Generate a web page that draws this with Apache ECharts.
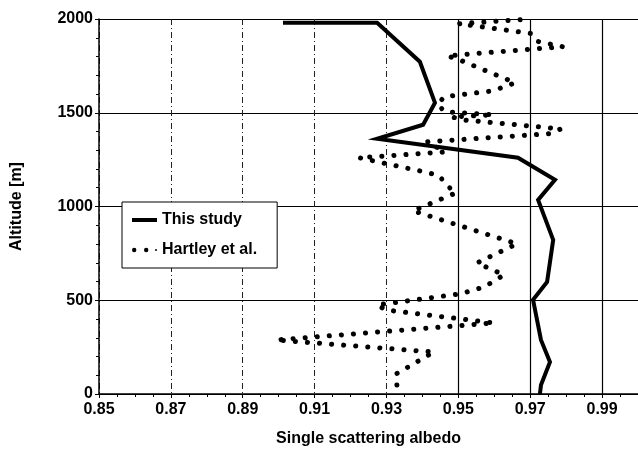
<!DOCTYPE html>
<html>
<head>
<meta charset="UTF-8">
<title>Single scattering albedo</title>
<script src="https://cdn.jsdelivr.net/npm/echarts@6/dist/echarts.min.js"></script>
<style>
  html, body { margin: 0; padding: 0; background: #fff; }
  #chart { width: 638px; height: 454px; }
</style>
</head>
<body>
<div id="chart"></div>
<script>
// this study (solid line)
var studyAlbedo = [0.9012, 0.9274, 0.9393, 0.9435, 0.9402, 0.9274, 0.9666, 0.9769, 0.9722, 0.9764, 0.9747, 0.9708, 0.9730, 0.9755, 0.9730, 0.9727];
var studyAlt    = [1980, 1980, 1772, 1553, 1436, 1361, 1260, 1142, 1035, 822, 598, 502, 288, 171, 48, 0];

// Hartley et al. (dotted line)
var hartleyAlbedo = [0.9329, 0.9327, 0.9432, 0.8993, 0.9599, 0.9299, 0.9274, 0.9505, 0.9572, 0.9627, 0.9552, 0.9663, 0.9374, 0.9494, 0.9469, 0.9447, 0.9416, 0.9224, 0.9463, 0.9413, 0.9752, 0.9786, 0.9513, 0.9482, 0.9597, 0.9463, 0.9443, 0.9460, 0.9597, 0.9658, 0.9502, 0.9469, 0.9791, 0.9722, 0.9705, 0.9502, 0.9700];
var hartleyAlt    = [48, 107, 224, 288, 379, 448, 475, 534, 571, 635, 699, 801, 977, 1073, 1110, 1164, 1180, 1260, 1291, 1345, 1388, 1414, 1462, 1478, 1489, 1505, 1542, 1585, 1617, 1660, 1783, 1804, 1852, 1880, 1922, 1975, 2000];

// solid vertical grid lines
var solidGridX = [0.95, 0.97, 0.99];

var font = '"Liberation Sans", Arial, sans-serif';

function pairs(xs, ys) {
  return xs.map(function (x, i) { return [x, ys[i]]; });
}

var chart = echarts.init(document.getElementById('chart'));

var option = {
  backgroundColor: '#fff',
  animation: false,
  textStyle: { fontFamily: font, color: '#000' },
  grid: { left: 99, top: 19, right: 0, bottom: 60 },
  legend: {
    orient: 'vertical',
    left: 122,
    top: 202,
    padding: [10, 20, 10, 10],
    itemGap: 14,
    itemWidth: 25,
    itemHeight: 14,
    borderColor: '#000',
    borderWidth: 1,
    backgroundColor: '#fff',
    lineStyle: { color: 'rgba(0,0,0,0)', type: 'solid' },
    textStyle: { fontFamily: font, fontSize: 16, fontWeight: 'bold', color: '#000' },
    data: [
      { name: 'This study', icon: 'path://M0,0H25V4H0Z' },
      { name: 'Hartley et al.', icon: 'path://M0,2a2.2,2.2 0 1,0 4.4,0a2.2,2.2 0 1,0 -4.4,0ZM12,2a2.2,2.2 0 1,0 4.4,0a2.2,2.2 0 1,0 -4.4,0ZM23,2a1,1 0 1,0 2,0a1,1 0 1,0 -2,0Z' }
    ]
  },
  xAxis: {
    type: 'value',
    min: 0.85,
    max: 1.0,
    interval: 0.02,
    name: 'Single scattering albedo',
    nameLocation: 'middle',
    nameGap: 37,
    nameTextStyle: { fontFamily: font, fontSize: 16, fontWeight: 'bold', color: '#000' },
    axisLine: { show: true, lineStyle: { color: '#000', width: 1.5 } },
    axisTick: { show: true, length: 4, lineStyle: { color: '#000' } },
    minorTick: { show: true, splitNumber: 4, length: 3, lineStyle: { color: '#000' } },
    axisLabel: {
      margin: 8,
      showMaxLabel: false,
      fontFamily: font, fontSize: 16, fontWeight: 'bold', color: '#000',
      formatter: function (v) { return v.toFixed(2); }
    },
    splitLine: { show: true, lineStyle: { color: '#222', width: 1, type: [6, 3, 1, 3] } }
  },
  yAxis: {
    type: 'value',
    min: 0,
    max: 2000,
    interval: 500,
    name: 'Altitude [m]',
    nameLocation: 'middle',
    nameGap: 74,
    nameRotate: 90,
    nameTextStyle: { fontFamily: font, fontSize: 16, fontWeight: 'bold', color: '#000' },
    axisLine: { show: true, lineStyle: { color: '#000', width: 1.5 } },
    axisTick: { show: true, length: 4, lineStyle: { color: '#000' } },
    minorTick: { show: true, splitNumber: 5, length: 3, lineStyle: { color: '#000' } },
    axisLabel: {
      margin: 6, fontFamily: font, fontSize: 16, fontWeight: 'bold', color: '#000',
      formatter: function (v) { return String(v); }
    },
    splitLine: { show: true, lineStyle: { color: '#000', width: 1.2 } }
  },
  series: [
    {
      name: 'grid',
      type: 'line',
      data: [],
      silent: true,
      markLine: {
        silent: true,
        symbol: 'none',
        label: { show: false },
        lineStyle: { color: '#000', width: 1.2, type: 'solid' },
        data: solidGridX.map(function (x) { return { xAxis: x }; })
      }
    },
    {
      name: 'Hartley et al.',
      type: 'line',
      data: pairs(hartleyAlbedo, hartleyAlt),
      showSymbol: false,
      symbol: 'none',
      lineStyle: { color: '#000', width: 5, type: [0.1, 12], cap: 'round' },
      itemStyle: { color: '#000' }
    },
    {
      name: 'This study',
      type: 'line',
      data: pairs(studyAlbedo, studyAlt),
      showSymbol: false,
      symbol: 'none',
      lineStyle: { color: '#000', width: 4, join: 'miter' },
      itemStyle: { color: '#000' }
    }
  ]
};

chart.setOption(option);
</script>
</body>
</html>
